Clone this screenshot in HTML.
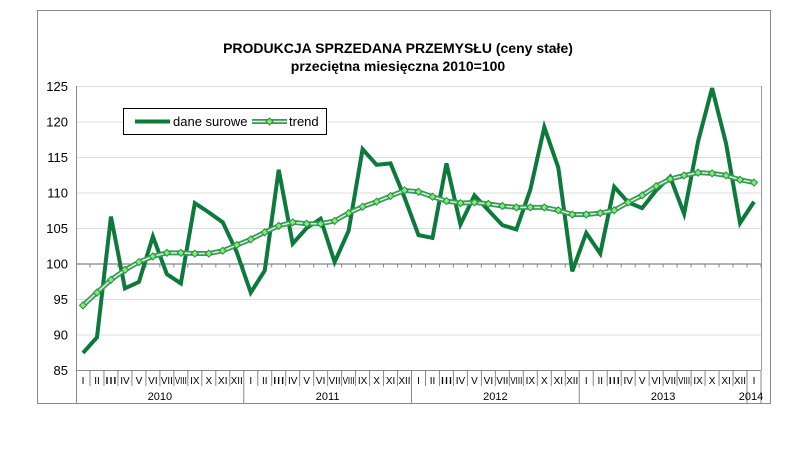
<!DOCTYPE html>
<html><head><meta charset="utf-8"><style>
body{margin:0;background:#fff;font-family:"Liberation Sans",Arial,sans-serif}
svg text{font-family:"Liberation Sans",Arial,sans-serif}
</style></head><body>
<svg id="c" width="805" height="445" viewBox="0 0 805 445">
<rect x="37.5" y="10.5" width="733" height="393" fill="#fff" stroke="#888"/>
<text x="398" y="53" text-anchor="middle" font-size="14" font-weight="bold">PRODUKCJA SPRZEDANA PRZEMYSŁU (ceny stałe)</text>
<text x="398" y="71" text-anchor="middle" font-size="14" font-weight="bold">przeciętna miesięczna 2010=100</text>
<g id="grid"></g><g id="axes"></g><g id="series"></g>
<g>
<rect x="123.5" y="108.5" width="203" height="26" fill="#fff" stroke="#000"/>
<line x1="135" y1="121.5" x2="170" y2="121.5" stroke="#0b7a3a" stroke-width="4"/>
<text x="173" y="126" font-size="13">dane surowe</text>
<line x1="252" y1="121.5" x2="287" y2="121.5" stroke="#3a9a5e" stroke-width="5"/>
<line x1="252" y1="121.5" x2="287" y2="121.5" stroke="#d9f5d0" stroke-width="1.5"/>
<path d="M269.5 118 L273 121.5 L269.5 125 L266 121.5Z" fill="#7cf06a" stroke="#2a8a4a"/>
<text x="289" y="126" font-size="13">trend</text>
</g>
</svg>
<script>
const months=["I","II","III","IV","V","VI","VII","VIII","IX","X","XI","XII"];
const years=["2010","2011","2012","2013","2014"];
const yTicks=[85,90,95,100,105,110,115,120,125];
const raw=[87.4,89.6,106.6,96.5,97.4,103.8,98.5,97.2,108.5,107.2,105.8,101.6,
95.9,99.0,113.2,102.8,105.0,106.3,100.2,104.6,116.1,113.9,114.1,109.3,
104.0,103.6,114.1,105.5,109.6,107.5,105.4,104.8,110.4,119.2,113.5,98.9,
104.3,101.4,110.8,108.6,107.8,110.3,112.2,107.0,117.2,124.7,116.9,105.7,108.7];
const trend=[94.1,95.9,97.7,99.1,100.2,101.0,101.5,101.5,101.4,101.4,101.8,102.6,
103.4,104.4,105.3,105.8,105.6,105.6,106.0,107.1,108.0,108.7,109.5,110.3,
110.1,109.4,108.8,108.5,108.6,108.4,108.1,107.9,107.9,107.9,107.5,106.9,
106.9,107.1,107.5,108.6,109.6,110.9,111.9,112.4,112.8,112.7,112.4,111.8,111.4];
const NS="http://www.w3.org/2000/svg";
const X0=76,X1=761,Y0=370,Y1=86,N=raw.length,cw=(X1-X0)/N;
const x=i=>X0+cw*(i+0.5);
const y=v=>Y0-(v-85)/40*(Y0-Y1);
function mk(t,a,p){const e=document.createElementNS(NS,t);for(const k in a)e.setAttribute(k,a[k]);p.appendChild(e);return e;}
const G=document.getElementById('grid'),A=document.getElementById('axes'),S=document.getElementById('series');
yTicks.forEach(v=>{
  const l=mk('line',{x1:X0,x2:X1,y1:y(v)+.5,y2:y(v)+.5,stroke:v===100?'#666':'#ddd'},G);
  
  
  const t=mk('text',{x:X0-8,y:y(v)+5,'text-anchor':'end','font-size':13},A);t.textContent=v;
  
  
});
mk('line',{x1:X1+.5,x2:X1+.5,y1:Y1,y2:Y0,stroke:'#999'},A);
mk('line',{x1:X0+.5,x2:X0+.5,y1:Y1,y2:404,stroke:'#888'},A);
mk('line',{x1:X0,x2:X1,y1:Y0+.5,y2:Y0+.5,stroke:'#888'},A);
for(let i=0;i<N;i++){
  const xb=X0+cw*(i+1);
  mk('line',{x1:xb,x2:xb,y1:Y0,y2:(i%12===11||i===N-1)?404:386,stroke:'#888'},A);
  mk('line',{x1:xb,x2:xb,y1:y(100),y2:y(100)+4,stroke:'#888'},A);
  const t=mk('text',{x:x(i),y:384,'text-anchor':'middle','font-size':10,textLength:months[i%12].length>2?cw-2:'',lengthAdjust:'spacingAndGlyphs'},A);
  if(months[i%12].length<=2)t.removeAttribute('textLength');
  t.textContent=months[i%12];
  
  
}
years.forEach((yr,k)=>{
  const n=Math.min(12,N-12*k);
  const t=mk('text',{x:X0+cw*(12*k+n/2),y:400,'text-anchor':'middle','font-size':11},A);t.textContent=yr;
  if(k===4)t.setAttribute('x',X0+cw*(12*k)+cw/2-3);
  
  
});
const pts=a=>a.map((v,i)=>x(i)+','+y(v)).join(' ');
const r=mk('polyline',{points:pts(raw),fill:'none',stroke:'#0b7a3a','stroke-width':4,'stroke-linejoin':'miter'},S);


const t1=mk('polyline',{points:pts(trend),fill:'none',stroke:'#3a9a5e','stroke-width':5},S);


mk('polyline',{points:pts(trend),fill:'none',stroke:'#d9f5d0','stroke-width':1.5},S);
trend.forEach((v,i)=>{
  const m=mk('path',{d:`M${x(i)} ${y(v)-3.5}L${x(i)+3.5} ${y(v)}L${x(i)} ${y(v)+3.5}L${x(i)-3.5} ${y(v)}Z`,fill:'#7cf06a',stroke:'#2a8a4a','stroke-width':1},S);
  
  
});
</script>
</body></html>
